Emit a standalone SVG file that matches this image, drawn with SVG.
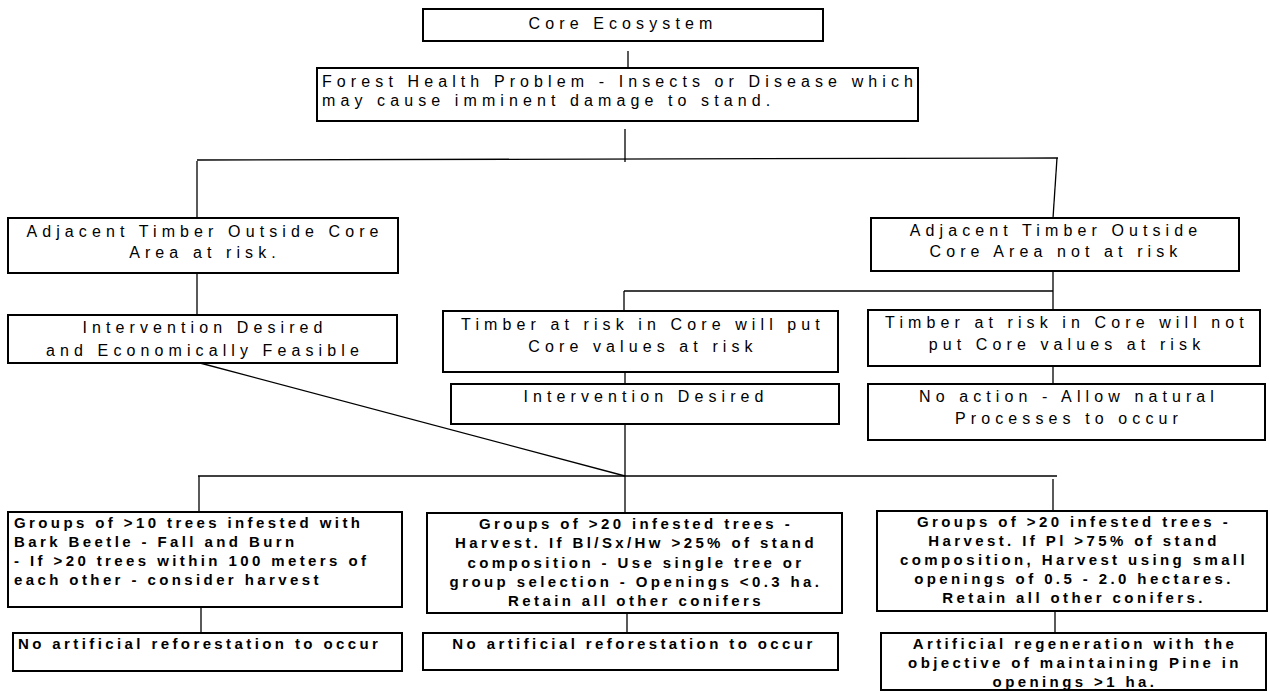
<svg xmlns="http://www.w3.org/2000/svg" width="1270" height="692" viewBox="0 0 1270 692">
<style>
.box{fill:#fff;stroke:#000;stroke-width:2}
.ln{stroke:#000;stroke-width:1.3;fill:none}
.t{font-family:"Liberation Sans",Arial,sans-serif;font-size:16px;letter-spacing:5.1px;fill:#000}
.b{font-family:"Liberation Sans",Arial,sans-serif;font-size:15px;font-weight:bold;letter-spacing:3.4px;fill:#000}
.m{text-anchor:middle}
</style>
<rect width="1270" height="692" fill="#fff"/>
<g id="connectors">
<line class="ln" x1="628" y1="51" x2="628" y2="71"/>
<line class="ln" x1="625" y1="129" x2="625" y2="162"/>
<line class="ln" x1="197" y1="160" x2="1058" y2="158"/>
<line class="ln" x1="197" y1="161" x2="197" y2="218"/>
<line class="ln" x1="1057" y1="158" x2="1053" y2="218"/>
<line class="ln" x1="197" y1="273" x2="197" y2="315"/>
<line class="ln" x1="1053" y1="271" x2="1053" y2="310"/>
<line class="ln" x1="624" y1="291" x2="1053" y2="291"/>
<line class="ln" x1="624" y1="291" x2="624" y2="311"/>
<line class="ln" x1="625" y1="368" x2="625" y2="384"/>
<line class="ln" x1="1053" y1="366" x2="1053" y2="384"/>
<line class="ln" x1="625" y1="424" x2="625" y2="513"/>
<line class="ln" x1="200" y1="363" x2="625" y2="476"/>
<line class="ln" x1="198" y1="476" x2="1057" y2="476"/>
<line class="ln" x1="199" y1="476" x2="199" y2="512"/>
<line class="ln" x1="1053" y1="479" x2="1053" y2="511"/>
<line class="ln" x1="201" y1="607" x2="201" y2="633"/>
<line class="ln" x1="627" y1="610" x2="627" y2="633"/>
<line class="ln" x1="1055" y1="609" x2="1055" y2="633"/>
</g>
<g id="core">
<rect class="box" x="423" y="9" width="400" height="32"/>
<text class="t m" x="623" y="29">Core Ecosystem</text>
</g>
<g id="forest">
<rect class="box" x="317" y="68" width="601" height="53"/>
<text class="t" x="322" y="87">Forest Health Problem - Insects or Disease which</text>
<text class="t" x="322" y="106">may cause imminent damage to stand.</text>
</g>
<g id="adjLeft">
<rect class="box" x="8" y="218" width="390" height="55"/>
<text class="t m" x="205" y="237">Adjacent Timber Outside Core</text>
<text class="t m" x="205" y="258">Area at risk.</text>
</g>
<g id="adjRight">
<rect class="box" x="871" y="218" width="368" height="53"/>
<text class="t m" x="1056" y="236">Adjacent Timber Outside</text>
<text class="t m" x="1056" y="257">Core Area not at risk</text>
</g>
<g id="interventionEcon">
<rect class="box" x="8" y="315" width="389" height="48"/>
<text class="t m" x="205" y="333">Intervention Desired</text>
<text class="t m" x="205" y="356">and Economically Feasible</text>
</g>
<g id="timberPut">
<rect class="box" x="443" y="311" width="395" height="61"/>
<text class="t m" x="643" y="330">Timber at risk in Core will put</text>
<text class="t m" x="643" y="352">Core values at risk</text>
</g>
<g id="timberNot">
<rect class="box" x="868" y="310" width="392" height="56"/>
<text class="t m" x="1067" y="328">Timber at risk in Core will not</text>
<text class="t m" x="1067" y="350">put Core values at risk</text>
</g>
<g id="interventionDesired">
<rect class="box" x="451" y="384" width="388" height="40"/>
<text class="t m" x="646" y="402">Intervention Desired</text>
</g>
<g id="noAction">
<rect class="box" x="868" y="384" width="397" height="56"/>
<text class="t m" x="1069" y="402">No action - Allow natural</text>
<text class="t m" x="1069" y="424">Processes to occur</text>
</g>
<g id="groups10">
<rect class="box" x="8" y="512" width="394" height="95"/>
<text class="b" x="14" y="528">Groups of &gt;10 trees infested with</text>
<text class="b" x="14" y="547">Bark Beetle - Fall and Burn</text>
<text class="b" x="14" y="566">- If &gt;20 trees within 100 meters of</text>
<text class="b" x="14" y="585">each other - consider harvest</text>
</g>
<g id="groups20a">
<rect class="box" x="427" y="513" width="415" height="100"/>
<text class="b m" x="636" y="529">Groups of &gt;20 infested trees -</text>
<text class="b m" x="636" y="548">Harvest. If Bl/Sx/Hw &gt;25% of stand</text>
<text class="b m" x="636" y="568">composition - Use single tree or</text>
<text class="b m" x="636" y="587">group selection - Openings &lt;0.3 ha.</text>
<text class="b m" x="636" y="606">Retain all other conifers</text>
</g>
<g id="groups20b">
<rect class="box" x="877" y="511" width="390" height="100"/>
<text class="b m" x="1074" y="527">Groups of &gt;20 infested trees -</text>
<text class="b m" x="1074" y="546">Harvest. If Pl &gt;75% of stand</text>
<text class="b m" x="1074" y="565">composition, Harvest using small</text>
<text class="b m" x="1074" y="584">openings of 0.5 - 2.0 hectares.</text>
<text class="b m" x="1074" y="603">Retain all other conifers.</text>
</g>
<g id="noArt1">
<rect class="box" x="13" y="633" width="389" height="38"/>
<text class="b" x="18" y="649">No artificial reforestation to occur</text>
</g>
<g id="noArt2">
<rect class="box" x="423" y="633" width="415" height="37"/>
<text class="b m" x="634" y="649">No artificial reforestation to occur</text>
</g>
<g id="artReg">
<rect class="box" x="881" y="633" width="385" height="57"/>
<text class="b m" x="1075" y="649">Artificial regeneration with the</text>
<text class="b m" x="1075" y="668">objective of maintaining Pine in</text>
<text class="b m" x="1075" y="687">openings &gt;1 ha.</text>
</g>
</svg>
